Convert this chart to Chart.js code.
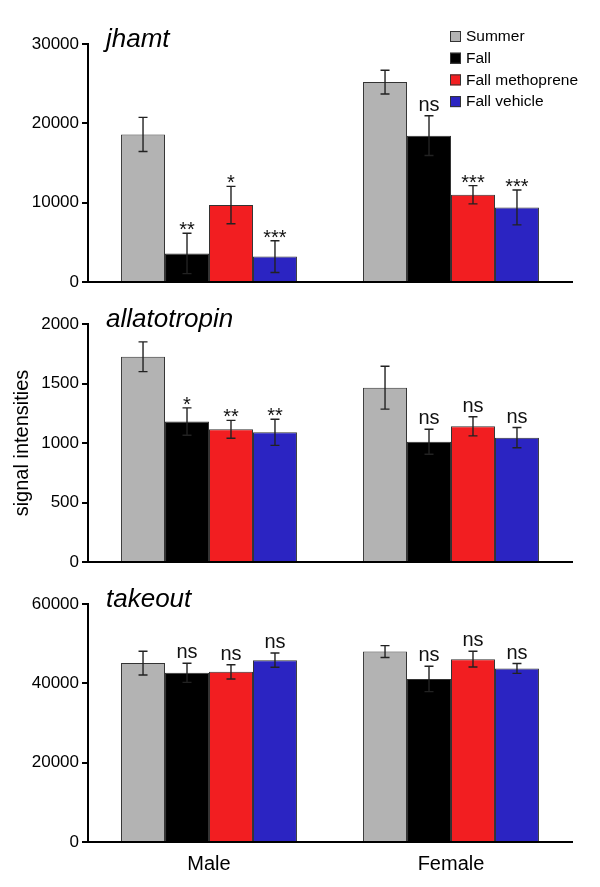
<!DOCTYPE html>
<html>
<head>
<meta charset="utf-8">
<script src="https://cdn.jsdelivr.net/npm/chart.js@4.4.1/dist/chart.umd.min.js"></script>
<style>
  body { margin: 0; background: #fff; }
  .panel { position: absolute; left: 0; width: 600px; }
</style>
</head>
<body>
<div class="panel" style="top:0"><canvas id="jhamtChart" width="600" height="300"></canvas></div>
<div class="panel" style="top:300px"><canvas id="allatoChart" width="600" height="280"></canvas></div>
<div class="panel" style="top:580px"><canvas id="takeoutChart" width="600" height="307"></canvas></div>
<script>
// Gene expression in three panels, grouped bars with SE whiskers

const groups = ['Male', 'Female'];
const seriesNames = ['Summer', 'Fall', 'Fall methoprene', 'Fall vehicle'];
const seriesColors = ['#b3b3b3', '#000000', '#f21e21', '#2b24c2'];

// rows follow seriesNames, columns follow groups
const jhamtMeans = [[18600, 25200], [3600, 18450], [9700, 11000], [3200, 9400]];
const jhamtErrors = [[2150, 1500], [2550, 2500], [2350, 1150], [2000, 2200]];
const jhamtSig = [['', ''], ['**', 'ns'], ['*', '***'], ['***', '***']];
const jhamtTicks = { max: 30000, step: 10000 };

const allatoMeans = [[1725, 1465], [1180, 1010], [1115, 1140], [1090, 1045]];
const allatoErrors = [[125, 180], [115, 105], [75, 80], [110, 85]];
const allatoSig = [['', ''], ['*', 'ns'], ['**', 'ns'], ['**', 'ns']];
const allatoTicks = { max: 2000, step: 500 };

const takeoutMeans = [[45100, 48000], [42650, 41100], [42900, 46100], [45850, 43750]];
const takeoutErrors = [[3000, 1500], [2400, 3200], [1800, 2000], [1800, 1250]];
const takeoutSig = [['', ''], ['ns', 'ns'], ['ns', 'ns'], ['ns', 'ns']];
const takeoutTicks = { max: 60000, step: 20000 };

const FONT = "'Liberation Sans', Arial, Helvetica, sans-serif";
Chart.defaults.font.family = FONT;
Chart.defaults.color = '#000';

const errorBarPlugin = {
  id: 'errorBars',
  afterDatasetsDraw(chart, args, opts) {
    const { ctx } = chart;
    const yScale = chart.scales.y;
    chart.data.datasets.forEach((ds, di) => {
      const meta = chart.getDatasetMeta(di);
      meta.data.forEach((bar, i) => {
        const v = ds.data[i];
        const e = opts.errors[di][i];
        const yTop = yScale.getPixelForValue(v + e);
        const yBot = yScale.getPixelForValue(v - e);
        ctx.save();
        ctx.strokeStyle = '#222';
        ctx.lineWidth = 1.4;
        ctx.beginPath();
        ctx.moveTo(bar.x, yTop);
        ctx.lineTo(bar.x, yBot);
        ctx.moveTo(bar.x - 4.5, yTop);
        ctx.lineTo(bar.x + 4.5, yTop);
        ctx.moveTo(bar.x - 4.5, yBot);
        ctx.lineTo(bar.x + 4.5, yBot);
        ctx.stroke();

        const s = opts.sig[di][i];
        if (s) {
          ctx.fillStyle = '#111';
          ctx.font = '20px ' + FONT;
          ctx.textAlign = 'center';
          ctx.textBaseline = 'alphabetic';
          const ty = s === 'ns' ? yTop - 5 : yTop + 3;
          ctx.fillText(s, bar.x, ty);
        }
        ctx.restore();
      });
    });
  }
};

const panelTitlePlugin = {
  id: 'panelTitle',
  afterDraw(chart, args, opts) {
    const { ctx, chartArea } = chart;
    ctx.save();
    ctx.fillStyle = '#000';
    ctx.font = 'italic 26px ' + FONT;
    ctx.textAlign = 'left';
    ctx.textBaseline = 'alphabetic';
    ctx.fillText(opts.text, chartArea.left + 18, chartArea.top + 3);
    ctx.restore();
  }
};

const boxLegendPlugin = {
  id: 'boxLegend',
  afterDraw(chart, args, opts) {
    if (!opts.show) return;
    const { ctx } = chart;
    ctx.save();
    ctx.font = '15.5px ' + FONT;
    ctx.textBaseline = 'middle';
    chart.data.datasets.forEach((ds, i) => {
      const y = opts.y + i * 21.7;
      ctx.fillStyle = ds.backgroundColor;
      ctx.fillRect(opts.x, y - 5, 11, 11);
      ctx.strokeStyle = '#333';
      ctx.lineWidth = 1;
      ctx.strokeRect(opts.x + 0.5, y - 4.5, 10, 10);
      ctx.fillStyle = '#000';
      ctx.fillText(ds.label, opts.x + 16, y + 1);
    });
    ctx.restore();
  }
};

function makePanel(canvasId, cfg) {
  const ctx = document.getElementById(canvasId).getContext('2d');
  return new Chart(ctx, {
    type: 'bar',
    data: {
      labels: groups,
      datasets: seriesNames.map((name, i) => ({
        label: name,
        data: cfg.means[i],
        backgroundColor: seriesColors[i],
        borderColor: '#333',
        borderWidth: 1,
        barPercentage: 1,
        categoryPercentage: 0.727
      }))
    },
    options: {
      responsive: false,
      animation: false,
      layout: { padding: cfg.padding },
      scales: {
        x: {
          afterFit: (scale) => { scale.height = cfg.xHeight; },
          grid: { display: false },
          border: { display: true, color: '#000', width: 2 },
          ticks: { display: cfg.showX, font: { size: 20 }, padding: 2, color: '#000' }
        },
        y: {
          min: 0,
          max: cfg.ticks.max,
          afterFit: (scale) => { scale.width = 88; },
          ticks: {
            stepSize: cfg.ticks.step,
            font: { size: 17 },
            padding: 3,
            color: '#000',
            callback: (v) => String(v)
          },
          grid: { drawOnChartArea: false, color: '#000', lineWidth: 2, tickLength: 6 },
          border: { color: '#000', width: 2 },
          title: {
            display: !!cfg.yTitle,
            text: cfg.yTitle || '',
            font: { size: 20 },
            color: '#000',
            padding: { top: 10, bottom: 0 }
          }
        }
      },
      plugins: {
        legend: { display: false },
        tooltip: { enabled: false },
        errorBars: { errors: cfg.errors, sig: cfg.sig },
        panelTitle: { text: cfg.title },
        boxLegend: { show: !!cfg.legend, x: 450, y: 36 }
      }
    },
    plugins: [errorBarPlugin, panelTitlePlugin, boxLegendPlugin]
  });
}

makePanel('jhamtChart', {
  title: 'jhamt', means: jhamtMeans, errors: jhamtErrors, sig: jhamtSig, ticks: jhamtTicks,
  padding: { top: 44, right: 28, bottom: 8, left: 0 }, xHeight: 10, showX: false, legend: true
});
makePanel('allatoChart', {
  title: 'allatotropin', means: allatoMeans, errors: allatoErrors, sig: allatoSig, ticks: allatoTicks,
  padding: { top: 24, right: 28, bottom: 8, left: 0 }, xHeight: 10, showX: false,
  yTitle: 'signal intensities'
});
makePanel('takeoutChart', {
  title: 'takeout', means: takeoutMeans, errors: takeoutErrors, sig: takeoutSig, ticks: takeoutTicks,
  padding: { top: 24, right: 28, bottom: 0, left: 0 }, xHeight: 45, showX: true
});
</script>
</body>
</html>
